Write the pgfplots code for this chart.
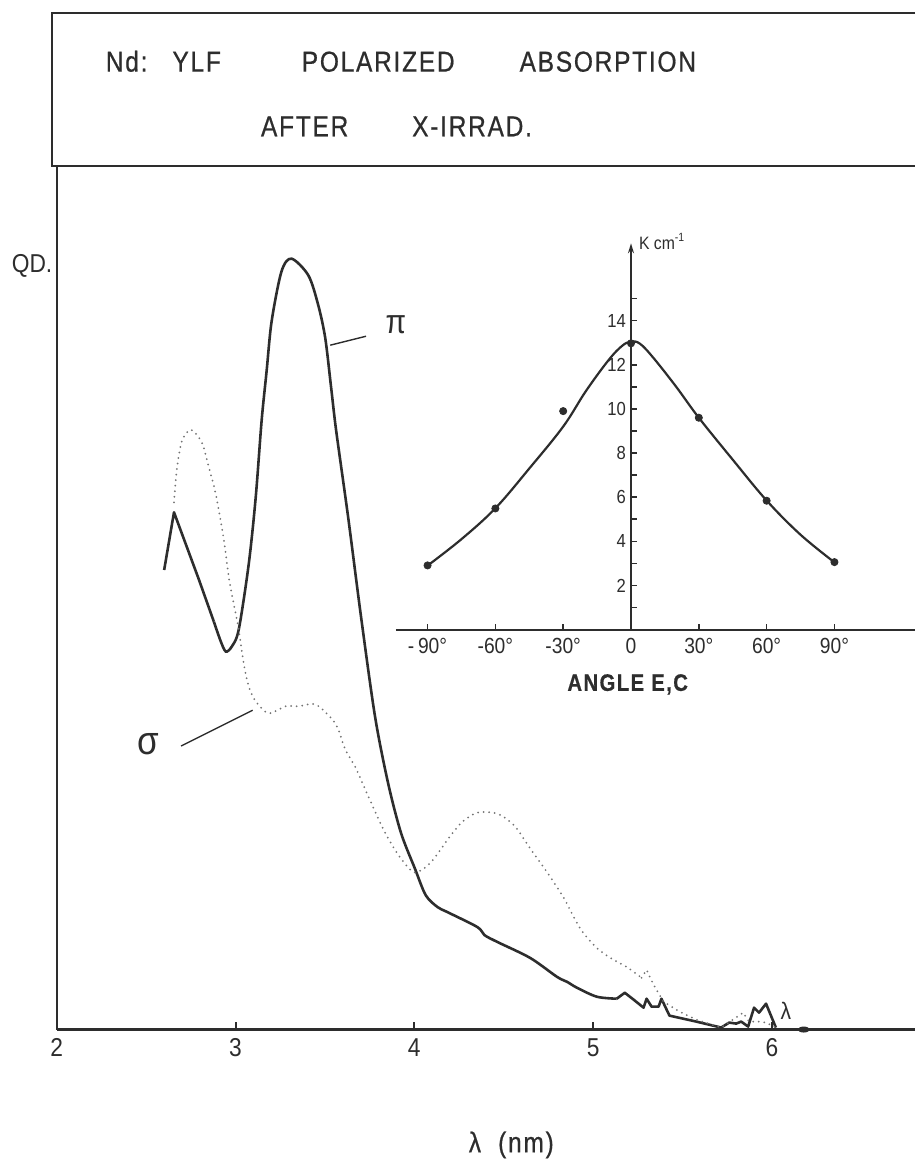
\documentclass[border=0pt]{standalone}
\usepackage{fontspec}
\setmainfont[FakeStretch=0.88]{Liberation Sans}
\newfontfamily\lett[FakeStretch=0.85,LetterSpace=6,FakeBold=0.6]{Liberation Sans}
\usepackage{pgfplots}
\pgfplotsset{compat=1.18}
\usetikzlibrary{arrows.meta}
\definecolor{ink}{RGB}{45,45,45}
\begin{document}
\begin{tikzpicture}
% page = 920 x 1165 px, 1 px = 0.5pt, origin at top left
\begin{scope}[x=0.5pt,y=-0.5pt]
\useasboundingbox (0,0) rectangle (920,1165);
\fill[white] (0,0) rectangle (920,1165);
\end{scope}

% main spectrum
\begin{axis}[at={(28.5pt,-517.5pt)},anchor=south west,scale only axis,
  width=431.5pt,height=434pt,xmin=2,xmax=6.801,ymin=0,ymax=8.68,
  axis lines=left,axis line style={-},
  xtick={2,3,4,5,6},ytick=\empty,tick align=inside,
  major tick length=4pt,
  axis line style={ink,line width=1.2pt},tick style={ink,line width=1pt},
  /pgf/number format/assume math mode=true,
  x tick label style={font=\fontsize{13}{14}\selectfont,text=ink,yshift=-1pt}]
% pi, solid
\addplot[ink,line width=1.3pt,line join=round] coordinates {
(2.601,4.62) (2.656,5.20) (2.796,4.52) (2.879,4.10)};
\addplot[ink,line width=1.3pt,smooth,tension=0.5] coordinates {
(2.879,4.10) (2.918,3.90) (2.946,3.80) (2.979,3.85) (3.018,4.02) (3.074,4.68)
(3.113,5.35) (3.146,6.12) (3.174,6.62) (3.202,7.12) (3.257,7.62) (3.313,7.75)
(3.408,7.58) (3.463,7.28) (3.502,6.95) (3.535,6.45) (3.563,6.02) (3.630,5.15)
(3.702,4.15) (3.780,3.15) (3.853,2.48) (3.925,1.98) (4.003,1.62) (4.064,1.35)
(4.131,1.23) (4.186,1.18) (4.353,1.03) (4.392,0.95) (4.465,0.88) (4.648,0.72)
(4.798,0.53) (4.854,0.48) (4.910,0.42) (5.021,0.33) (5.132,0.31)};
\addplot[ink,line width=1.3pt,line join=round] coordinates {
(5.132,0.31) (5.177,0.37) (5.227,0.30) (5.282,0.22) (5.299,0.31) (5.327,0.23)
(5.366,0.23) (5.382,0.31) (5.427,0.14) (5.577,0.08) (5.716,0.02) (5.761,0.07)
(5.800,0.06) (5.828,0.08) (5.867,0.03) (5.900,0.22) (5.928,0.17) (5.967,0.26)
(6.022,0.02)};
% sigma, dotted
\addplot[black!55,line width=1pt,line cap=round,dash pattern=on 0pt off 2.8pt,smooth,tension=0.5] coordinates {
(2.656,5.30) (2.673,5.65) (2.701,5.92) (2.751,6.03) (2.812,5.90) (2.851,5.65)
(2.890,5.38) (2.935,4.92) (2.962,4.55) (2.990,4.28) (3.018,4.02) (3.046,3.68)
(3.074,3.45) (3.113,3.30) (3.185,3.18) (3.280,3.25) (3.352,3.25) (3.446,3.27)
(3.535,3.13) (3.574,3.02) (3.613,2.82) (3.675,2.62) (3.741,2.35) (3.836,1.98)
(3.925,1.72) (4.003,1.58) (4.092,1.68) (4.203,1.95) (4.270,2.09) (4.353,2.18)
(4.465,2.17) (4.559,2.05) (4.648,1.82) (4.743,1.58) (4.837,1.32) (4.926,1.02)
(5.021,0.82) (5.115,0.70) (5.188,0.63) (5.271,0.52)};
\addplot[black!55,line width=1pt,line cap=round,dash pattern=on 0pt off 2.8pt] coordinates {
(5.271,0.52) (5.299,0.60) (5.338,0.45) (5.394,0.28) (5.483,0.18) (5.577,0.10)
(5.716,0.02) (5.839,0.17) (5.872,0.08) (5.928,0.08) (5.967,0.07) (6.022,0.02)};
\end{axis}

% inset: absorption coefficient vs angle
\begin{axis}[at={(199pt,-316.5pt)},anchor=south west,scale only axis,
  width=261pt,height=194.2pt,xmin=-104,xmax=125.7,ymin=0,ymax=17.5,
  axis lines=middle,
  x axis line style={-},y axis line style={-{Stealth[length=5pt,width=3pt]}},
  axis line style={ink,line width=0.9pt},tick style={ink,line width=0.8pt},
  xtick={-90,-60,-30,0,30,60,90},
  xticklabels={-\,90°,-60°,-30°,0,30°,60°,90°},
  ytick={2,4,6,8,10,12,14},minor ytick={1,3,5,7,9,11,13,15},
  hide obscured x ticks=false,
  tick align=inside,major tick length=3pt,minor tick length=3pt,
  /pgf/number format/assume math mode=true,
  x tick label style={font=\fontsize{11}{12}\selectfont,text=ink,yshift=-1pt},
  y tick label style={font=\fontsize{9.5}{11}\selectfont,text=ink,xshift=1pt},
  clip=false]
\addplot[ink,line width=1.1pt,smooth,tension=0.6] coordinates {
(-90,2.9) (-75,4.1) (-60,5.5) (-45,7.3) (-30,9.2) (-20,10.8) (-10,12.2)
(-4,12.85) (0,13.05) (4,12.95) (10,12.3) (20,11.0) (30,9.6) (45,7.7)
(60,5.85) (75,4.3) (90,3.05)};
\addplot[only marks,mark=*,mark size=1.8pt,ink] coordinates {
(-90,2.91) (-60,5.49) (-30,9.9) (0,12.97) (30,9.6) (60,5.84) (90,3.06)};
\end{axis}

\begin{scope}[x=0.5pt,y=-0.5pt]
% title box
\draw[ink,line width=1.2pt] (920,13) -- (52,13) -- (52,167) -- (920,167);
\begin{scope}[every node/.style={anchor=base west,inner sep=0pt,text=ink,
  font=\lett\fontsize{14.5}{16}\selectfont}]
\node at (106,72) {Nd:};
\node at (173,72) {YLF};
\node at (303,72) {POLARIZED};
\node at (522,72) {ABSORPTION};
\node at (262,137) {AFTER};
\node at (414,137) {X-IRRAD.};
\end{scope}
% labels
\node[anchor=east,inner sep=0pt,text=ink,font=\fontsize{13}{15}\selectfont] at (53,267) {QD.};
\node[text=ink,font=\lett\fontsize{14.5}{16}\selectfont] at (514,1151) {λ\ \ (nm)};
\node[text=ink,font=\fontsize{12}{13}\selectfont] at (790,1016) {λ};
\fill[ink] (808,1035) ellipse (6 and 3);
% pi annotation
\draw[ink,line width=0.7pt] (332,347) -- (368,338);
\node[text=ink,font=\fontsize{17}{18}\selectfont] at (398,326) {π};
% sigma annotation
\draw[ink,line width=0.7pt] (182,750) -- (254,714);
\node[text=ink,font=\fontsize{20}{22}\selectfont] at (149,748) {σ};
% inset labels
\node[text=ink,font=\lett\bfseries\fontsize{12}{14}\selectfont] at (631,688) {ANGLE E,C};
\node[anchor=west,text=ink,font=\fontsize{9}{10}\selectfont,inner sep=0pt] at (642,243) {K cm\textsuperscript{-1}};
\end{scope}
\end{tikzpicture}
\end{document}
